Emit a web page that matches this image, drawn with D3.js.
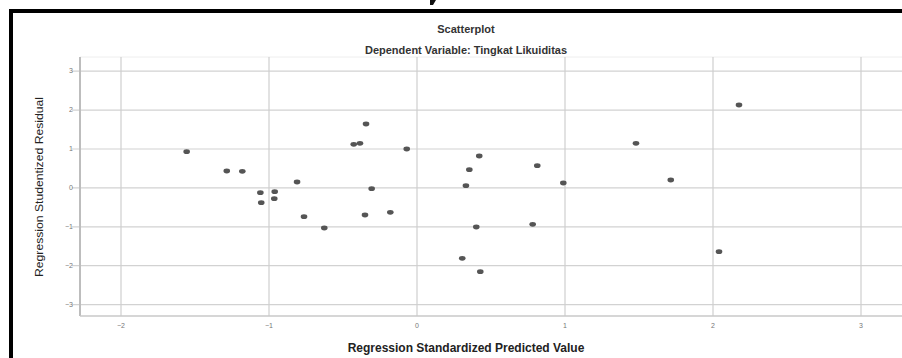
<!DOCTYPE html>
<html><head><meta charset="utf-8">
<script src="https://cdn.jsdelivr.net/npm/d3@7"></script>
<style>body{margin:0;background:#fff}svg{display:block}</style>
</head><body>
<script>
const predicted = [-1.553,-1.282,-1.177,-1.055,-0.958,-1.049,-0.961,-0.807,-0.760,-0.623,-0.424,-0.382,-0.341,-0.303,-0.348,-0.177,-0.066,0.424,0.357,0.334,0.404,0.309,0.431,0.816,0.785,0.992,1.483,1.718,2.179,2.044];
const residual  = [0.918,0.422,0.414,-0.136,-0.111,-0.393,-0.290,0.139,-0.753,-1.044,1.108,1.134,1.630,-0.033,-0.710,-0.640,0.987,0.807,0.455,0.044,-1.018,-1.823,-2.167,0.558,-0.949,0.113,1.134,0.190,2.118,-1.653];
const xTicks = [-2,-1,0,1,2,3];
const yTicks = [-3,-2,-1,0,1,2,3];
const title = "Scatterplot";
const subtitle = "Dependent Variable: Tingkat Likuiditas";
const xTitle = "Regression Standardized Predicted Value";
const yTitle = "Regression Studentized Residual";

const W = 902, H = 358;
const svg = d3.select("body").append("svg").attr("width", W).attr("height", H);

const x = d3.scaleLinear().domain([-2, 3]).range([120.5, 860.5]);
const y = d3.scaleLinear().domain([-3, 3]).range([304.1, 70.7]);
const plotL = 80, plotT = 57, plotB = 316, plotR = 902;
const font = "Liberation Sans, Arial, sans-serif";

// small dark fragment of page content above the frame
svg.append("path").attr("d", "M430,0 L436,0 L433,5 L430,5 Z").attr("fill", "#111");

// outer black frame
svg.append("rect").attr("x", 11).attr("y", 11).attr("width", 1000).attr("height", 1000)
  .attr("fill", "none").attr("stroke", "#000").attr("stroke-width", 4);

// titles
svg.append("text").attr("x", 466).attr("y", 33).attr("text-anchor", "middle")
  .attr("font-family", font).attr("font-size", 11).attr("font-weight", "bold").attr("fill", "#333").text(title);
svg.append("text").attr("x", 466).attr("y", 54).attr("text-anchor", "middle")
  .attr("font-family", font).attr("font-size", 11).attr("font-weight", "bold").attr("fill", "#333").text(subtitle);

// faint top border
svg.append("line").attr("x1", plotL).attr("x2", plotR).attr("y1", plotT).attr("y2", plotT)
  .attr("stroke", "#eee").attr("stroke-width", 1);

// grid: horizontal
const gy = d3.axisLeft(y).tickValues(yTicks).tickSize(-(plotR - plotL) - 8).tickFormat(d3.format("d"));
const gyG = svg.append("g").attr("transform", `translate(${plotL - 8},0)`).call(gy);
gyG.select(".domain").remove();
gyG.selectAll(".tick line").attr("stroke", "#d2d2d2").attr("stroke-width", 1.2);
gyG.selectAll(".tick text").attr("font-family", font).attr("font-size", 7).attr("fill", "#777").attr("dx", "4");

// grid: vertical
const gx = d3.axisBottom(x).tickValues(xTicks).tickSize(-(plotB - plotT)).tickFormat(d3.format("d"));
const gxG = svg.append("g").attr("transform", `translate(0,${plotB})`).call(gx);
gxG.select(".domain").remove();
gxG.selectAll(".tick line").attr("stroke", "#cfcfcf").attr("stroke-width", 1.2);
gxG.selectAll(".tick text").attr("font-family", font).attr("font-size", 7).attr("fill", "#777").attr("y", 7);

// axis lines
svg.append("line").attr("x1", plotL).attr("x2", plotL).attr("y1", plotT).attr("y2", plotB)
  .attr("stroke", "#bdbdbd").attr("stroke-width", 2);
svg.append("line").attr("x1", plotL).attr("x2", plotR).attr("y1", plotB).attr("y2", plotB)
  .attr("stroke", "#c8c8c8").attr("stroke-width", 1.5);

// axis titles
svg.append("text").attr("x", 466).attr("y", 352).attr("text-anchor", "middle")
  .attr("font-family", font).attr("font-size", 12).attr("font-weight", "bold").attr("fill", "#222").text(xTitle);
svg.append("text").attr("transform", "translate(43,187) rotate(-90)").attr("text-anchor", "middle")
  .attr("font-family", font).attr("font-size", 11).attr("fill", "#222")
  .attr("textLength", 180).attr("lengthAdjust", "spacingAndGlyphs").text(yTitle);

// points
svg.append("g").selectAll("ellipse").data(predicted.map((p, i) => [p, residual[i]])).join("ellipse")
  .attr("cx", d => x(d[0])).attr("cy", d => y(d[1])).attr("rx", 3.3).attr("ry", 2.4)
  .attr("fill", "#555");
</script>
</body></html>
